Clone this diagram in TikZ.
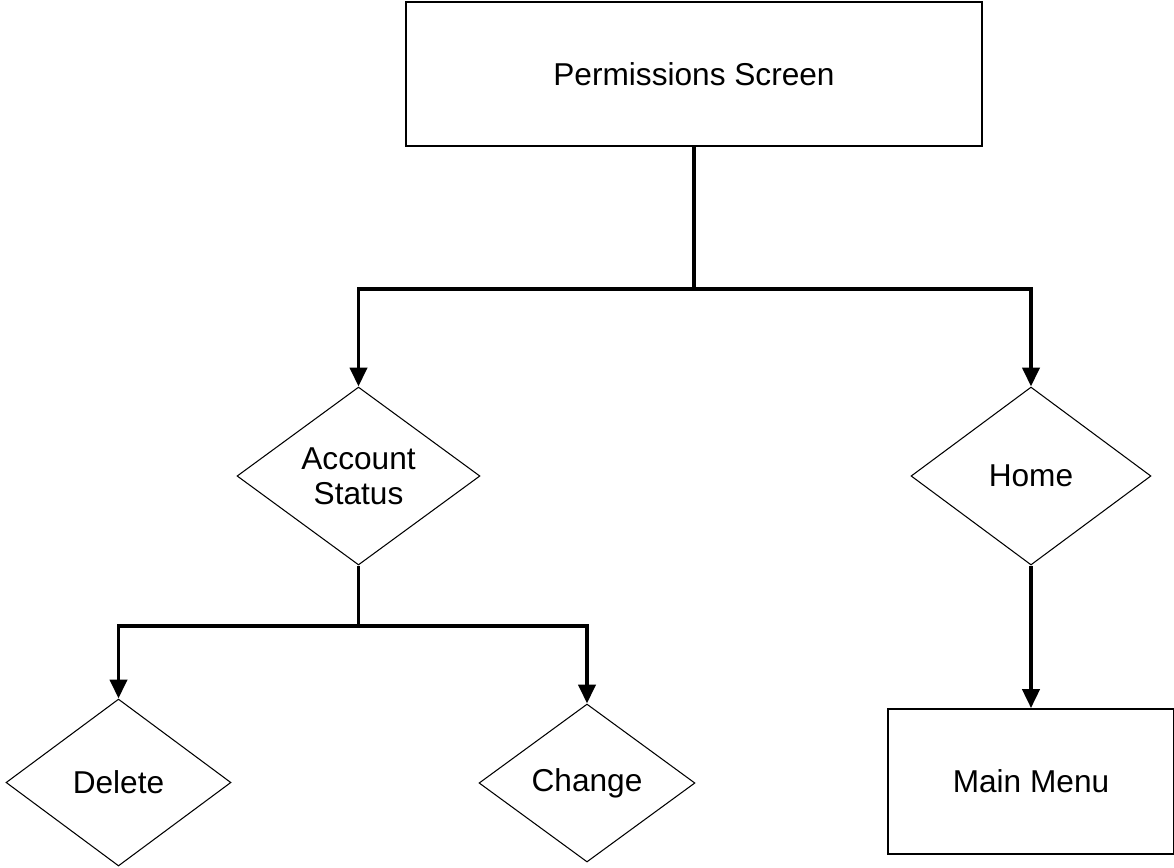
\documentclass[tikz,border=0pt]{standalone}
\usepackage{fontspec}
\setmainfont{Liberation Sans}
\usetikzlibrary{shapes.geometric,arrows.meta}

\begin{document}
\begin{tikzpicture}[x=0.02cm,y=-0.02cm,
        every node/.style={font=\fontsize{18}{20}\selectfont},
        screen/.style={draw,shape=rectangle,line width=1pt,inner sep=0,align=center},
        choice/.style={draw,shape=diamond,aspect=1.37,line width=0.6pt,inner sep=0,align=center},
        link/.style={line width=2.2pt},
        linkarr/.style={line width=2.2pt,-{Triangle[width=9.7pt,length=10.8pt]}}]
        \useasboundingbox (0,0) rectangle (1174,867);
        % the screens
        \node[screen,minimum width=11.52cm,minimum height=2.88cm] (perm) at (694,74) {Permissions Screen};
        \node[screen,minimum width=5.72cm,minimum height=2.9cm] (menu) at (1031,781.5) {Main Menu};
        % the choices
        \node[choice,minimum width=4.86cm,minimum height=3.56cm] (acct) at (358.5,476) {Account\\Status};
        \node[choice,minimum width=4.8cm,minimum height=3.56cm] (home) at (1031,476) {Home};
        \node[choice,minimum width=4.5cm,minimum height=3.34cm] (del) at (118.5,782.5) {Delete};
        \node[choice,minimum width=4.32cm,minimum height=3.16cm] (chg) at (587,783) {Change};
        % branch points
        \coordinate (split1) at (694,289);
        \coordinate (split2) at (358.5,626);
        % connectors
        \draw[link] (perm.south) -- (split1);
        \draw[linkarr] (split1) -| (acct.north);
        \draw[linkarr] (split1) -| (home.north);
        \draw[link] (acct.south) -- (split2);
        \draw[linkarr] (split2) -| (del.north);
        \draw[linkarr] (split2) -| (chg.north);
        \draw[linkarr] (home.south) -- (menu.north);
      \end{tikzpicture}
\end{document}
